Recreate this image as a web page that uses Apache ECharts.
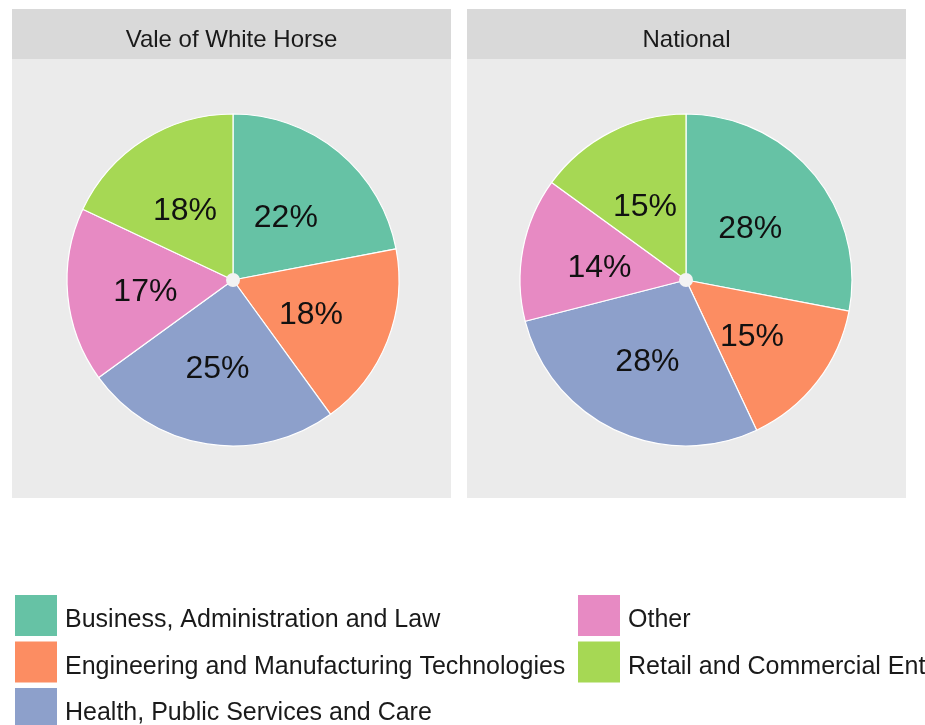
<!DOCTYPE html>
<html>
<head>
<meta charset="utf-8">
<script src="https://cdn.jsdelivr.net/npm/echarts@6/dist/echarts.min.js"></script>
<style>
  html, body { margin: 0; padding: 0; background: #fff; }
  #chart { width: 925px; height: 725px; }
</style>
</head>
<body>
<div id="chart"></div>
<script>
// data
var categories = [
  'Business, Administration and Law',
  'Engineering and Manufacturing Technologies',
  'Health, Public Services and Care',
  'Other',
  'Retail and Commercial Enterprise'
];
var panels = ['Vale of White Horse', 'National'];
var valeValues = [22, 18, 25, 17, 18];
var nationalValues = [28, 15, 28, 14, 15];
var colors = ['#66c2a5', '#fc8d62', '#8da0cb', '#e78ac3', '#a6d854'];

var font = '"Liberation Sans", Arial, sans-serif';

function toData(values) {
  return categories.map(function (name, i) {
    return { name: name, value: values[i] };
  });
}

function pieSeries(values, cx) {
  return {
    type: 'pie',
    center: [cx, 280],
    radius: [0, 166],
    startAngle: 90,
    clockwise: true,
    avoidLabelOverlap: false,
    silent: true,
    itemStyle: { borderColor: '#ffffff', borderWidth: 1.2 },
    label: {
      show: true,
      position: 'inside',
      formatter: '{c}%',
      fontSize: 32,
      fontFamily: font,
      color: '#111',
      offset: [-2, 4]
    },
    labelLine: { show: false },
    data: toData(values)
  };
}

function centerDot(cx) {
  return {
    type: 'pie',
    center: [cx, 280],
    radius: [0, 7],
    silent: true,
    z: 5,
    label: { show: false },
    labelLine: { show: false },
    itemStyle: { color: '#f3f3f3', borderWidth: 0 },
    data: [{ name: 'dot', value: 1 }]
  };
}

function panel(x, title) {
  return [
    { type: 'rect', silent: true, z: -10, shape: { x: x, y: 9, width: 439, height: 489 }, style: { fill: '#ebebeb' } },
    { type: 'rect', silent: true, z: -9, shape: { x: x, y: 9, width: 439, height: 50 }, style: { fill: '#d9d9d9' } },
    { type: 'text', silent: true, z: -8, x: x + 219.5, y: 40,
      style: { text: title, fill: '#1a1a1a', font: '24px ' + font, textAlign: 'center', textVerticalAlign: 'middle' } }
  ];
}

function legend(left, names) {
  return {
    orient: 'vertical',
    left: left,
    top: 595,
    height: 220,
    padding: 0,
    itemWidth: 42,
    itemHeight: 41,
    itemGap: 5.5,
    icon: 'rect',
    selectedMode: false,
    itemStyle: { borderWidth: 0 },
    data: names,
    formatter: function (name) { return '{t|' + name + '}'; },
    textStyle: {
      fontSize: 25, fontFamily: font, color: '#1a1a1a', padding: [0, 0, 0, 3],
      rich: { t: { fontSize: 25, fontFamily: font, color: '#1a1a1a', padding: [10, 0, 0, 0] } }
    }
  };
}

var chart = echarts.init(document.getElementById('chart'));
chart.setOption({
  animation: false,
  color: colors,
  graphic: panel(12, panels[0]).concat(panel(467, panels[1])),
  legend: [
    legend(15, categories.slice(0, 3)),
    legend(578, categories.slice(3))
  ],
  series: [
    pieSeries(valeValues, 233),
    pieSeries(nationalValues, 686),
    centerDot(233),
    centerDot(686)
  ]
});
</script>
</body>
</html>
